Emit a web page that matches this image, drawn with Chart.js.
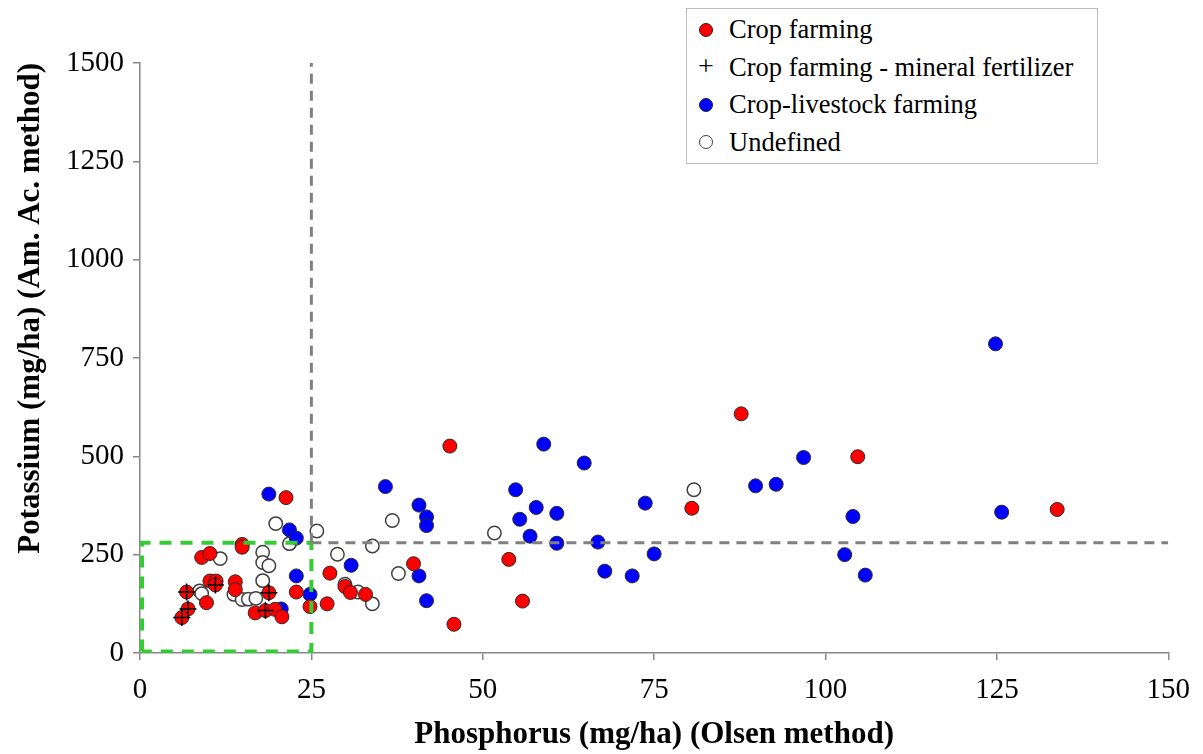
<!DOCTYPE html>
<html>
<head>
<meta charset="utf-8">
<script src="https://cdn.jsdelivr.net/npm/chart.js@4.4.1/dist/chart.umd.min.js"></script>
<style>
    body { margin: 0; background: #fff; }
    #wrap { position: relative; width: 1203px; height: 754px; }
    #legend {
        position: absolute; left: 686px; top: 8px; width: 410px; height: 152px;
        border: 1px solid #bdbdbd; background: #fff;
        font-family: 'Liberation Serif', 'Tinos', 'Times New Roman', 'DejaVu Serif', serif; font-size: 26.5px; color: #000;
        padding-top: 2px; box-sizing: content-box;
    }
    #legend .row { height: 37.5px; line-height: 37.5px; display: flex; align-items: center; }
    #legend .mk { width: 26px; margin-left: 6px; margin-right: 10px; display: flex; justify-content: center; align-items: center; }
    #legend .dot { width: 12px; height: 12px; border-radius: 50%; border: 1px solid #222; }
    #legend .plus { font-size: 28px; line-height: 28px; margin-top: -3px; }
</style>
</head>
<body>
<div id="wrap">
    <canvas id="scatter"></canvas>
    <div id="legend">
        <div class="row"><span class="mk"><span class="dot" style="background:#ff0000"></span></span>Crop farming</div>
        <div class="row"><span class="mk"><span class="plus">+</span></span>Crop farming - mineral fertilizer</div>
        <div class="row"><span class="mk"><span class="dot" style="background:#0000ff"></span></span>Crop-livestock farming</div>
        <div class="row"><span class="mk"><span class="dot" style="background:#fff;border-color:#444"></span></span>Undefined</div>
    </div>
</div>
<script>
// ============ DATA (phosphorus x, potassium y) ============
const cropFarming = [
    [45.2, 526], [87.7, 608], [104.7, 499], [80.5, 368], [133.8, 365],
    [21.3, 395], [14.9, 276], [14.9, 269], [9.0, 243], [10.2, 253],
    [10.2, 183], [11.1, 183], [11.0, 173], [6.8, 155], [9.7, 128],
    [13.9, 181], [13.9, 161], [18.8, 153], [16.8, 102], [18.3, 108],
    [19.7, 111], [20.7, 92], [7.0, 112], [6.1, 90], [22.8, 155],
    [24.8, 118], [27.3, 125], [27.7, 203], [29.9, 169], [30.7, 154],
    [32.9, 149], [39.9, 227], [45.8, 73], [53.8, 238], [55.8, 132]
];
const mineralFertilizer = [
    [11.0, 173], [6.8, 155], [18.8, 153], [18.3, 108], [7.0, 112], [6.1, 90]
];
const cropLivestock = [
    [18.8, 404], [21.8, 313], [22.8, 292], [22.8, 196], [20.6, 112],
    [24.8, 149], [30.8, 223], [35.8, 423], [40.7, 376], [41.8, 346],
    [41.8, 324], [40.7, 196], [41.8, 133], [58.9, 531], [64.8, 483],
    [54.8, 415], [57.8, 370], [60.8, 355], [55.4, 340], [56.9, 297],
    [60.8, 279], [66.8, 282], [73.7, 381], [75.0, 252], [67.8, 208],
    [71.8, 196], [96.8, 497], [89.8, 425], [92.8, 429], [104.0, 347],
    [102.8, 250], [105.8, 198], [124.8, 786], [125.7, 358]
];
const undefinedType = [
    [19.8, 329], [21.8, 278], [25.8, 310], [11.7, 240], [17.9, 256],
    [17.9, 230], [18.8, 222], [17.9, 184], [8.7, 158], [9.0, 151],
    [13.7, 149], [14.9, 136], [15.8, 137], [16.9, 139], [28.8, 251],
    [33.9, 272], [36.8, 337], [37.7, 202], [29.9, 175], [31.8, 155],
    [33.9, 125], [51.7, 305], [80.8, 415]
];

// threshold lines and the low-low box
const thresholdP = [[25, 280], [25, 1500]];
const thresholdK = [[25, 280], [150, 280]];
const lowBox = [[0.3, 4], [0.3, 280], [25, 280], [25, 4], [0.3, 4]];

const xTicks = [0, 25, 50, 75, 100, 125, 150];
const yTicks = [0, 250, 500, 750, 1000, 1250, 1500];

const toPts = arr => arr.map(p => ({ x: p[0], y: p[1] }));

// ============ CHART ============
const serif = "'Liberation Serif', 'Tinos', 'Times New Roman', 'DejaVu Serif', serif";
const axisGray = '#888888';

function lineSet(data, color, width, dash) {
    return {
        type: 'line', data: toPts(data), borderColor: color, borderWidth: width,
        borderDash: dash, pointRadius: 0, fill: false, tension: 0
    };
}

new Chart(document.getElementById('scatter'), {
    type: 'scatter',
    data: {
        datasets: [
            lineSet(thresholdP, '#808080', 3, [10, 7]),
            lineSet(thresholdK, '#808080', 3, [10, 7]),
            lineSet(lowBox, '#33cc33', 4, [12, 9]),
            {
                label: 'Crop farming - mineral fertilizer', data: toPts(mineralFertilizer),
                pointStyle: 'cross', pointRadius: 8.5, borderColor: '#000', borderWidth: 1.5
            },
            {
                label: 'Crop farming', data: toPts(cropFarming),
                pointRadius: 7, backgroundColor: '#ff0000', borderColor: '#2a2a2a', borderWidth: 1
            },
            {
                label: 'Crop-livestock farming', data: toPts(cropLivestock),
                pointRadius: 7, backgroundColor: '#0000ff', borderColor: '#2a2a2a', borderWidth: 1
            },
            {
                label: 'Undefined', data: toPts(undefinedType),
                pointRadius: 6.7, backgroundColor: '#ffffff', borderColor: '#404040', borderWidth: 1.5
            }
        ]
    },
    options: {
        responsive: true,
        maintainAspectRatio: false,
        animation: false,
        layout: { padding: { top: 63, right: 31, left: 0, bottom: 0 } },
        plugins: { legend: { display: false }, tooltip: { enabled: false } },
        scales: {
            x: {
                type: 'linear', min: 0, max: 150,
                afterBuildTicks: s => { s.ticks = xTicks.map(v => ({ value: v })); },
                afterFit: s => { s.height = 101; },
                border: { display: true, color: axisGray, width: 1.5 },
                grid: { display: true, drawOnChartArea: false, drawTicks: true, tickLength: 7, color: axisGray, lineWidth: 1.5 },
                ticks: { color: '#000', padding: 13, maxRotation: 0, callback: v => String(v), font: { family: serif, size: 29 } },
                title: {
                    display: true, text: 'Phosphorus (mg/ha) (Olsen method)', color: '#000',
                    padding: { top: 0, bottom: 0 }, font: { family: serif, size: 31, weight: 'bold' }
                }
            },
            y: {
                type: 'linear', min: 0, max: 1500,
                afterBuildTicks: s => { s.ticks = yTicks.map(v => ({ value: v })); },
                afterFit: s => { s.width = 140; },
                border: { display: true, color: axisGray, width: 1.5 },
                grid: { display: true, drawOnChartArea: false, drawTicks: true, tickLength: 7, color: axisGray, lineWidth: 1.5 },
                ticks: { color: '#000', padding: 9, callback: v => String(v), font: { family: serif, size: 29 } },
                title: {
                    display: true, text: 'Potassium (mg/ha) (Am. Ac. method)', color: '#000', align: 'end',
                    padding: { top: 12, bottom: 0 }, font: { family: serif, size: 31, weight: 'bold' }
                }
            }
        }
    }
});
</script>
</body>
</html>
